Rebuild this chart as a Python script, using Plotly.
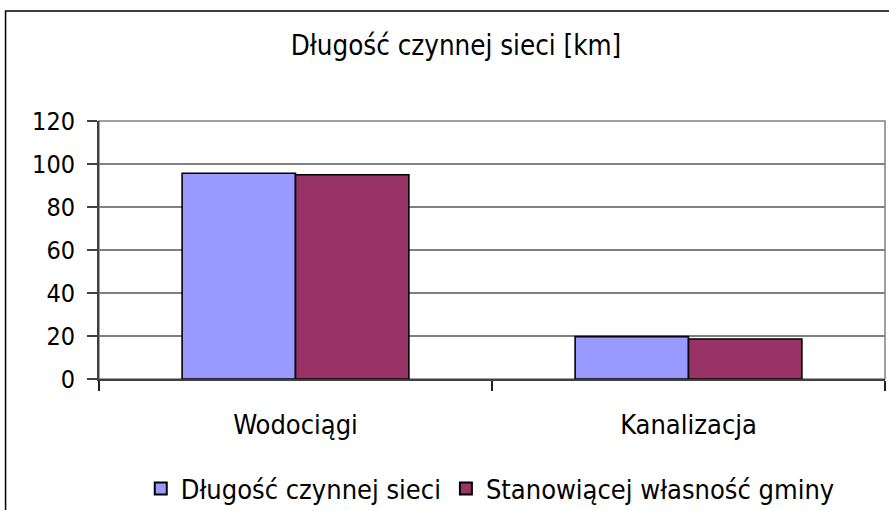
import plotly.graph_objects as go

categories = ["Wodociągi", "Kanalizacja"]
series_names = ["Długość czynnej sieci", "Stanowiącej własność gminy"]
dlugosc = [95.7, 19.7]
wlasnosc = [95.0, 18.6]
colors = ["#9999FF", "#993366"]
title_text = "Długość czynnej sieci [km]"

FONT = "DejaVu Sans Condensed"

fig = go.Figure()
for name, vals, col in zip(series_names, [dlugosc, wlasnosc], colors):
    fig.add_trace(go.Bar(
        x=categories, y=vals, name=name,
        marker=dict(color=col, line=dict(color="#000000", width=1.6)),
    ))

W, H = 889, 510
L, R, T, B = 98.5, 885, 121, 379
pw, ph = R - L, B - T

def px(x):
    return (x - L) / pw

def py(y):
    return (B - y) / ph

shapes = [
    dict(type="rect", xref="paper", yref="paper",
         x0=px(5), x1=px(895), y0=py(520), y1=py(11),
         line=dict(color="#000000", width=1.5), fillcolor="rgba(0,0,0,0)", layer="below"),
    dict(type="rect", xref="paper", yref="paper",
         x0=0, x1=1, y0=0, y1=1,
         line=dict(color="#808080", width=1.5), fillcolor="rgba(0,0,0,0)", layer="below"),
]

fig.update_layout(
    width=W, height=H,
    margin=dict(l=L, r=W - R, t=T, b=H - B, pad=0, autoexpand=False),
    paper_bgcolor="white", plot_bgcolor="white",
    font=dict(family=FONT, size=25, color="#000000"),
    title=dict(text=title_text, x=456 / W, xanchor="center", y=1 - 45 / H, yanchor="middle",
               xref="container", yref="container",
               font=dict(family=FONT, size=27.5, color="#000000")),
    barmode="group", bargap=0.423, bargroupgap=0,
    showlegend=True,
    legend=dict(orientation="h", x=px(490), xanchor="center", y=py(489), yanchor="middle",
                font=dict(family=FONT, size=27), itemsizing="constant",
                bgcolor="rgba(0,0,0,0)", tracegroupgap=0, itemwidth=30),
    shapes=shapes,
)

fig.update_xaxes(
    type="category", showline=True, linecolor="#404040", linewidth=2,
    ticks="outside", ticklen=10, tickwidth=1.5, tickcolor="#202020",
    tickson="boundaries", showgrid=False, ticklabelstandoff=21, automargin=False,
    tickfont=dict(family=FONT, size=27),
)
fig.update_yaxes(
    range=[0, 120], dtick=20, tick0=0,
    showline=True, linecolor="#404040", linewidth=2,
    ticks="outside", ticklen=10, tickwidth=1.5, tickcolor="#404040",
    showgrid=True, gridcolor="#808080", gridwidth=1.5, automargin=False,
    zeroline=False, ticklabelstandoff=7,
    tickfont=dict(family=FONT, size=25),
)

fig.write_html("out.html", config={"displayModeBar": False},
               post_script="document.body.style.margin='0';")
